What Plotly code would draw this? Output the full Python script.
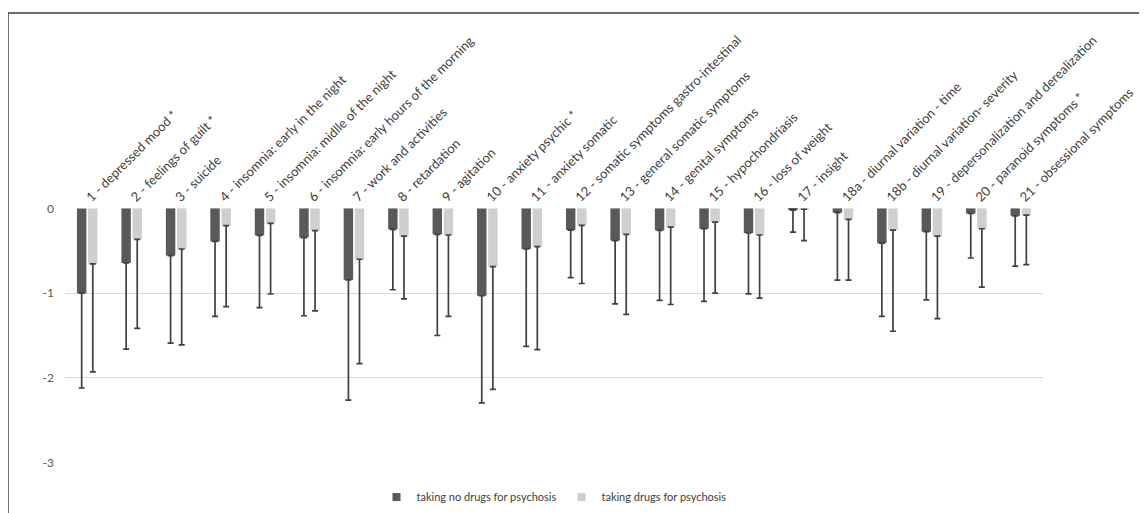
import plotly.graph_objects as go

categories = [
    "1 - depressed mood *", "2 - feelings of guilt *", "3 - suicide",
    "4 - insomnia: early in the night", "5 - insomnia: midlle of the night",
    "6 - insomnia: early hours of the morning", "7 - work and activities",
    "8 - retardation", "9 - agitation", "10 - anxiety psychic *",
    "11 - anxiety somatic", "12 - somatic symptoms gastro-intestinal",
    "13 - general somatic symptoms", "14 - genital symptoms",
    "15 - hypochondriasis", "16 - loss of weight", "17 - insight",
    "18a - diurnal variation - time", "18b - diurnal variation- severity",
    "19 - depersonalization and derealization", "20 - paranoid symptoms *",
    "21 - obsessional symptoms",
]

no_drugs_mean = [-1.00, -0.644, -0.557, -0.39, -0.318, -0.345, -0.843, -0.247,
                 -0.306, -1.03, -0.479, -0.255, -0.38, -0.259, -0.24, -0.29,
                 -0.02, -0.05, -0.41, -0.275, -0.06, -0.087]
no_drugs_sd = [1.12, 1.016, 1.033, 0.885, 0.852, 0.922, 1.42, 0.713, 1.194,
               1.265, 1.149, 0.561, 0.746, 0.827, 0.858, 0.718, 0.26, 0.797,
               0.865, 0.805, 0.525, 0.593]

drugs_mean = [-0.655, -0.365, -0.479, -0.204, -0.177, -0.263, -0.60, -0.326,
              -0.314, -0.687, -0.451, -0.20, -0.306, -0.22, -0.161, -0.314,
              -0.01, -0.13, -0.255, -0.326, -0.24, -0.08]
drugs_sd = [1.275, 1.051, 1.131, 0.956, 0.833, 0.947, 1.232, 0.741, 0.961,
            1.45, 1.216, 0.686, 0.944, 0.914, 0.839, 0.745, 0.37, 0.717,
            1.195, 0.974, 0.69, 0.584]

series_names = ["taking no drugs for psychosis", "taking drugs for psychosis"]
y_ticks = [0, -1, -2, -3]

DARK = "#595959"
LIGHT = "#cfcfcf"
ERR = "#404040"
FONT = "Lato, 'Open Sans', sans-serif"

fig = go.Figure()
for name, mean, sd, color in [
    (series_names[0], no_drugs_mean, no_drugs_sd, DARK),
    (series_names[1], drugs_mean, drugs_sd, LIGHT),
]:
    fig.add_trace(go.Bar(
        x=categories, y=mean, name=name,
        marker=dict(color=color, line=dict(width=0)),
        error_y=dict(type="data", symmetric=False,
                     array=[0] * len(sd), arrayminus=sd,
                     color=ERR, thickness=1.7, width=3),
        showlegend=False,
    ))
    fig.add_trace(go.Scatter(
        x=[None], y=[None], mode="markers", name=name,
        marker=dict(symbol="square", size=8, color=color),
    ))

fig.update_layout(
    width=1139, height=505,
    margin=dict(l=57, r=104, t=200, b=50, autoexpand=False),
    paper_bgcolor="white", plot_bgcolor="white",
    barmode="group", bargap=0.5, bargroupgap=0.15,
    font=dict(family=FONT, color="#595959"),
    xaxis=dict(side="top", tickangle=-45, showgrid=False, showline=False,
               zeroline=False, ticks="", automargin=False,
               tickfont=dict(size=13, color="#404040", family=FONT)),
    yaxis=dict(range=[-3.005, 0.005], tickvals=y_ticks,
               ticktext=[str(v) for v in y_ticks],
               showgrid=True, gridcolor="#d9d9d9", gridwidth=1.2,
               zeroline=False, showline=False, ticks="", ticklen=0,
               automargin=False,
               tickfont=dict(size=12, color="#595959", family=FONT),
               ticklabelstandoff=10),
    legend=dict(orientation="h", x=0.5, xanchor="center", y=-0.133,
                yanchor="middle", font=dict(size=11, color="#404040"),
                itemwidth=30, tracegroupgap=0),
    shapes=[dict(type="rect", xref="paper", yref="paper",
                 x0=(8 - 65) / 978, x1=(1152 - 65) / 978,
                 y0=(463 - 525) / 255, y1=(463 - 13) / 255,
                 line=dict(color="#404040", width=1.5),
                 fillcolor="rgba(0,0,0,0)", layer="below")],
)

fig.write_html("out.html")
